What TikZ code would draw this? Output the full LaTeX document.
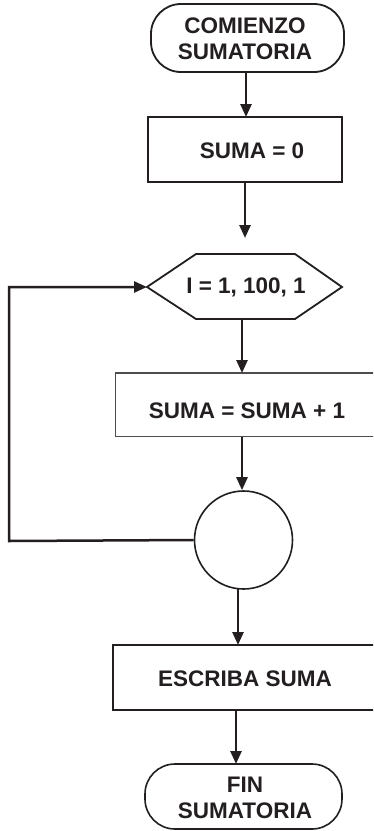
\documentclass[tikz,border=0pt]{standalone}
\usepackage{fontspec}
\setmainfont{Liberation Sans}
\usetikzlibrary{arrows.meta}
\definecolor{ink}{HTML}{231F20}
\begin{document}
\begin{tikzpicture}[x=1pt,y=-1pt,
  txt/.style={font=\fontsize{22.5}{26}\selectfont\bfseries, text=ink, align=center, inner sep=0pt},
  term/.style={draw=ink, line width=1.8pt, rounded corners=30pt, inner sep=0pt},
  proc/.style={draw=ink, line width=2pt, inner sep=0pt},
  flow/.style={draw=ink, line width=2.5pt, -{Triangle[length=13pt,width=11pt]}},
  loopline/.style={draw=ink, line width=2.5pt}
]
\clip (0,0) rectangle (373,831);
\fill[white] (0,0) rectangle (373,831);
% start terminal
\node[term, minimum width=193pt, minimum height=68pt] (start) at (247.5,38) {};
\node[txt] (starttxt) at (245,38.5) {COMIENZO\\SUMATORIA};
% SUMA = 0
\node[proc, minimum width=194pt, minimum height=65pt] (init) at (245,149.5) {};
\node[txt] (inittxt) at (252,151) {SUMA = 0};
% hexagon
\coordinate (hexW) at (147,287);
\coordinate (hexE) at (342,287);
\coordinate (hexN) at (245,254);
\coordinate (hexS) at (242,319);
\draw[ink, line width=1.8pt] (hexW) -- (196,254) -- (295,254) -- (hexE) -- (295,319) -- (196,319) -- cycle;
\node[txt] (hextxt) at (246,287.5) {I = 1, 100, 1};
% SUMA = SUMA + 1
\draw[ink!80, line width=1.2pt] (378,373) -- (115.5,373) -- (115.5,436.5) -- (378,436.5);
\coordinate (bodyN) at (242,373);
\coordinate (bodyS) at (242,436.5);
\node[txt] (bodytxt) at (247,411) {SUMA = SUMA + 1};
% circle
\node[draw=ink, line width=1.6pt, circle, minimum size=98pt, inner sep=0pt] (conn) at (243.5,540) {};
% ESCRIBA SUMA
\node[proc, minimum width=268pt, minimum height=65pt, anchor=west] (out) at (112,677.5) {};
\node[txt] (outtxt) at (245,678.5) {ESCRIBA SUMA};
% FIN terminal
\node[term, line width=1.6pt, minimum width=197pt, minimum height=65pt] (fin) at (243.5,796.5) {};
\node[txt] (fintxt) at (245,798) {FIN\\SUMATORIA};
% connectors
\coordinate (gapend) at (245,238);
\draw[flow] (246,72) -- (246,117);
\draw[flow] (init.south -| gapend) -- (gapend);
\draw[flow] (hexS) -- (bodyN);
\draw[flow] (bodyS) -- (conn.north -| bodyS);
\draw[flow] (238,589) -- (238,645);
\draw[flow] (236,710) -- (236,764);
\coordinate (loopA) at (9,541);
\coordinate (loopB) at (9,287);
\draw[loopline, -{Triangle[length=13pt,width=11pt]}] (conn.west) -- (loopA) -- (loopB) -- (hexW);
\end{tikzpicture}
\end{document}
